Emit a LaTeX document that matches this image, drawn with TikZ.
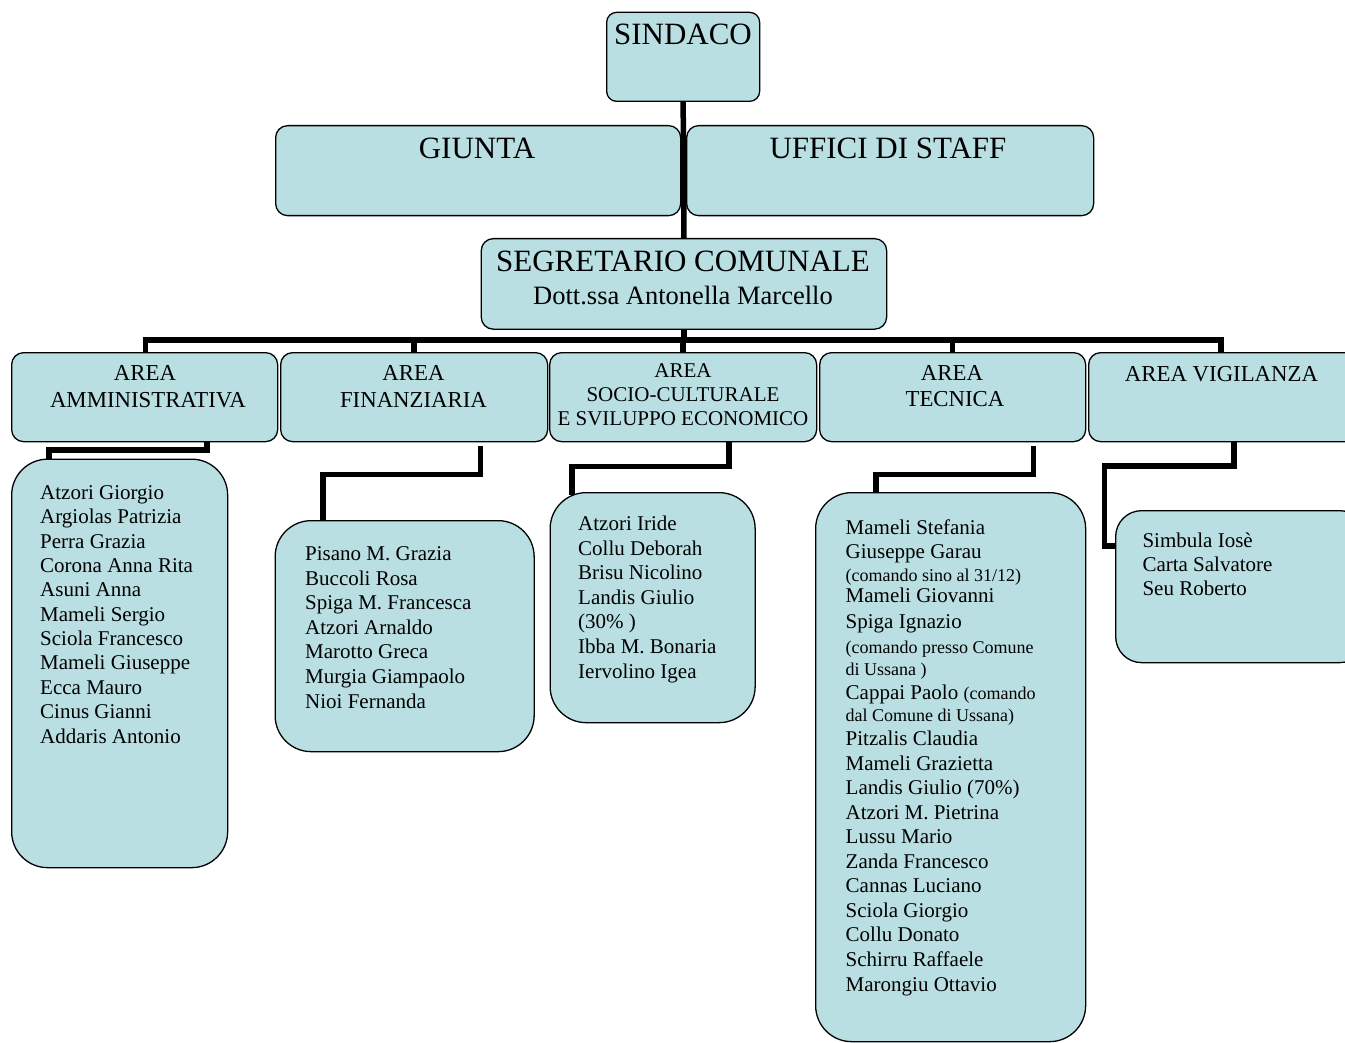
\documentclass[tikz,border=0pt]{standalone}
\usepackage{fontspec}
\setmainfont{Liberation Serif}
\newcommand\fTitle{\fontsize{31}{37}\selectfont}
\newcommand\fSub{\fontsize{26.5}{31}\selectfont}
\newcommand\fArea{\fontsize{22.8}{27}\selectfont}
\newcommand\fAreaS{\fontsize{21}{25}\selectfont}
\newcommand\fBody{\fontsize{21}{25}\selectfont}
\newcommand\fSmall{\fontsize{18}{21}\selectfont}
\definecolor{boxblue}{RGB}{185,223,226}
\pgfdeclarelayer{bg}\pgfsetlayers{bg,main}
\begin{document}
\begin{tikzpicture}[x=1pt,y=-1pt,
  box/.style={draw=black, line width=1.3pt, fill=boxblue, anchor=north west, inner sep=0pt, rounded corners=12pt},
  listbox/.style={box, rounded corners=36pt},
  txt/.style={anchor=base, inner sep=0pt},
  item/.style={anchor=base west, inner sep=0pt, font=\fBody},
  conn/.style={draw=black, line width=5.5pt, line join=miter, line cap=rect}]
\useasboundingbox (0,0) rectangle (1345,1043);

% top boxes
\node[box, rounded corners=10pt, minimum width=153pt, minimum height=89pt] (sind) at (606,11.7) {};
\node[box, minimum width=405pt, minimum height=90pt] (giu) at (275,125) {};
\node[box, minimum width=407pt, minimum height=90pt] (uff) at (686,125) {};
\node[box, minimum width=405.4pt, minimum height=90.5pt] (seg) at (480.6,238) {};

\node[txt, font=\fTitle] (sindT) at (683,45) {SINDACO};
\node[txt, font=\fTitle] (giuT) at (477,158.3) {GIUNTA};
\node[txt, font=\fTitle] (uffT) at (888,158.3) {UFFICI DI STAFF};
\node[txt, font=\fTitle] (segT) at (683,271.7) {SEGRETARIO COMUNALE};
\node[txt, font=\fSub] (segN) at (683,305) {Dott.ssa Antonella Marcello};

% area boxes
\node[box, minimum width=266pt, minimum height=89pt] (amm) at (11,352) {};
\node[box, minimum width=267pt, minimum height=89pt] (fin) at (280,352) {};
\node[box, minimum width=267pt, minimum height=89pt] (soc) at (549,352) {};
\node[box, minimum width=266pt, minimum height=89pt] (tec) at (819,352) {};
\node[box, minimum width=275pt, minimum height=89pt] (vig) at (1088,352) {};

\node[txt, font=\fArea] (ammT1) at (145,380) {AREA};
\node[txt, font=\fArea] (ammT2) at (148,407.5) {AMMINISTRATIVA};
\node[txt, font=\fArea] (finT1) at (413.5,380) {AREA};
\node[txt, font=\fArea] (finT2) at (413.5,407.5) {FINANZIARIA};
\node[txt, font=\fAreaS] (socT1) at (683,377) {AREA};
\node[txt, font=\fAreaS] (socT2) at (683,401) {SOCIO-CULTURALE};
\node[txt, font=\fAreaS] (socT3) at (683,425) {E SVILUPPO ECONOMICO};
\node[txt, font=\fArea] (tecT1) at (952,380) {AREA};
\node[txt, font=\fArea] (tecT2) at (955,406.7) {TECNICA};
\node[txt, font=\fArea] (vigT) at (1221.5,381.7) {AREA VIGILANZA};

% list boxes
\node[listbox, minimum width=216pt, minimum height=408.5pt] (ammL) at (11,458.5) {};
\node[listbox, minimum width=259pt, minimum height=231pt] (finL) at (274.5,520) {};
\node[listbox, minimum width=205pt, minimum height=230pt] (socL) at (549.5,492) {};
\node[listbox, minimum width=270pt, minimum height=549pt] (tecL) at (815,492) {};
\node[listbox, rounded corners=26pt, minimum width=250pt, minimum height=152pt] (vigL) at (1115,510) {};

% list texts
\foreach \t [count=\i] in {Atzori Giorgio, Argiolas Patrizia, Perra Grazia, Corona Anna Rita, Asuni Anna, Mameli Sergio, Sciola Francesco, Mameli Giuseppe, Ecca Mauro, Cinus Gianni, Addaris Antonio}
  \node[item] (am\i) at (40,{499.5+24.35*(\i-1)}) {\t};

\foreach \t [count=\i] in {Pisano M. Grazia, Buccoli Rosa, Spiga M. Francesca, Atzori Arnaldo, Marotto Greca, Murgia Giampaolo, Nioi Fernanda}
  \node[item] (fi\i) at (305,{560.7+24.55*(\i-1)}) {\t};

\foreach \t [count=\i] in {Atzori Iride, Collu Deborah, Brisu Nicolino, Landis Giulio, {(30\% )}, Ibba M. Bonaria, Iervolino Igea}
  \node[item] (so\i) at (578,{530.7+24.55*(\i-1)}) {\t};

\foreach \y/\t [count=\i] in {534/{Mameli Stefania}, 558.7/{Giuseppe Garau}, 581/{\fSmall (comando sino al 31/12)}, 602.7/{Mameli Giovanni}, 628/{Spiga Ignazio}, 653/{\fSmall (comando presso Comune}, 675/{\fSmall di Ussana )}, 699/{Cappai Paolo {\fSmall (comando}}, 721.5/{\fSmall dal Comune di Ussana)}, 745.5/{Pitzalis Claudia}, 770/{Mameli Grazietta}, 794.5/{Landis Giulio (70\%)}, 819/{Atzori M. Pietrina}, 843.5/{Lussu Mario}, 868/{Zanda Francesco}, 892.5/{Cannas Luciano}, 917/{Sciola Giorgio}, 941.5/{Collu Donato}, 966/{Schirru Raffaele}, 991/{Marongiu Ottavio}}
  \node[item] (te\i) at (845.5,\y) {\t};

\foreach \t [count=\i] in {Simbula Iosè, Carta Salvatore, Seu Roberto}
  \node[item] (vi\i) at (1142.3,{547.3+24.2*(\i-1)}) {\t};

% connector coordinates
\coordinate (busL) at (145.5,340);
\coordinate (busR) at (1221,340);
\coordinate (amA) at (207,450);
\coordinate (amB) at (49,450);
\coordinate (fiA) at (480.5,449);
\coordinate (fiB) at (480.5,474.5);
\coordinate (fiC) at (323,474.5);
\coordinate (soA) at (729,466.5);
\coordinate (soB) at (572,466.5);
\coordinate (teA) at (1033.5,449);
\coordinate (teB) at (1033.5,474.5);
\coordinate (teC) at (876,474.5);
\coordinate (viA) at (1234,466);
\coordinate (viB) at (1104.7,466);
\coordinate (viC) at (1104.7,546);

\begin{pgfonlayer}{bg}
  \draw[conn] (sind.south) -- (seg.north);
  \draw[conn] (seg.south) -- (seg.south |- busL);
  \draw[conn] (amm.north -| busL) -- (busL) -- (busR) -- (vig.north -| busR);
  \draw[conn] (fin.north) -- (fin.north |- busL);
  \draw[conn] (soc.north) -- (soc.north |- busL);
  \draw[conn] (tec.north) -- (tec.north |- busL);
  \draw[conn] (amm.south -| amA) -- (amA) -- (amB) -- (amB |- ammL.north);
  \draw[conn] (fiA) -- (fiB) -- (fiC) -- (fiC |- finL.north);
  \draw[conn] (soc.south -| soA) -- (soA) -- (soB) -- (soB |- socL.north);
  \draw[conn] (teA) -- (teB) -- (teC) -- (teC |- tecL.north);
  \draw[conn] (vig.south -| viA) -- (viA) -- (viB) -- (viC) -- (viC -| vigL.west);
\end{pgfonlayer}
\end{tikzpicture}
\end{document}
